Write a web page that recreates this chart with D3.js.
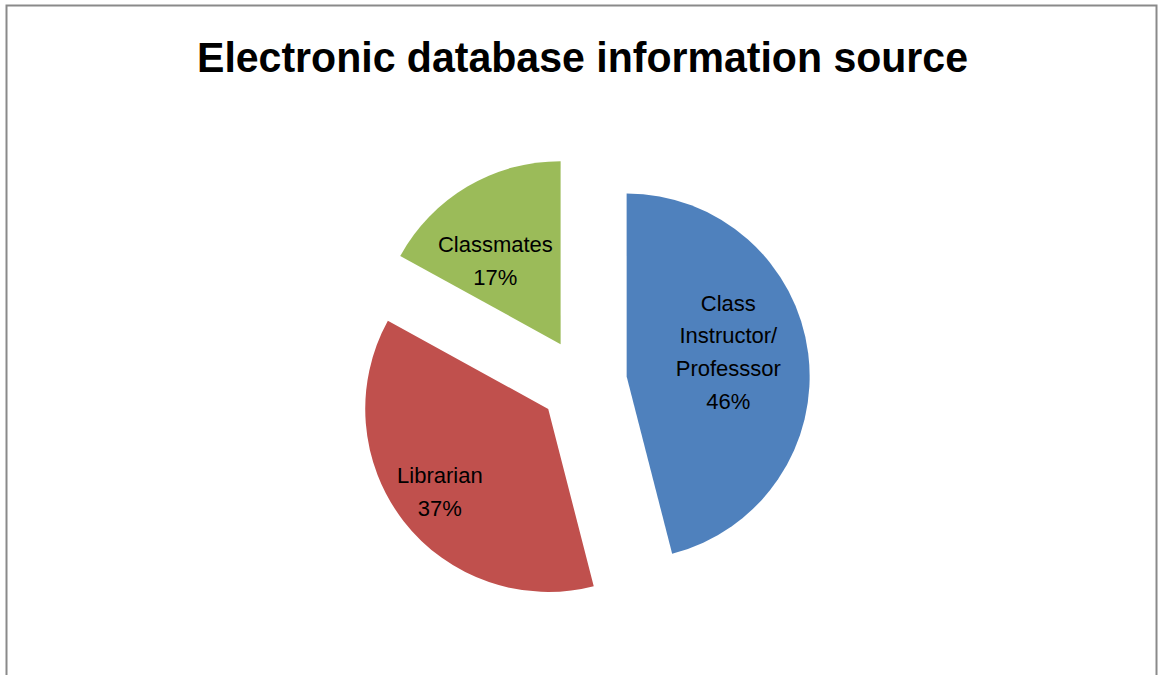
<!DOCTYPE html>
<html>
<head>
<meta charset="utf-8">
<script src="https://cdn.jsdelivr.net/npm/d3@7/dist/d3.min.js"></script>
<style>
  html, body { margin: 0; padding: 0; background: #fff; }
  svg { display: block; }
</style>
</head>
<body>
<svg id="chart" width="1158" height="675"></svg>
<script>
const title = "Electronic database information source";
const categories = ["Class Instructor/ Professsor", "Librarian", "Classmates"];
const labelLines = [["Class", "Instructor/", "Professsor"], ["Librarian"], ["Classmates"]];
const values = [46, 37, 17];
const colors = ["#4F81BD", "#C0504D", "#9BBB59"];

const svg = d3.select("#chart");

// chart border
svg.append("rect")
  .attr("x", 6.5).attr("y", 5.5)
  .attr("width", 1150).attr("height", 680)
  .attr("fill", "#fff")
  .attr("stroke", "#8a8a8a").attr("stroke-width", 2);

// title
svg.append("text")
  .attr("x", 582.5).attr("y", 72)
  .attr("text-anchor", "middle")
  .attr("font-family", "Liberation Sans, Arial, sans-serif")
  .attr("font-weight", "bold")
  .attr("font-size", 42)
  .attr("textLength", 771)
  .attr("lengthAdjust", "spacingAndGlyphs")
  .attr("fill", "#000")
  .text(title);

const cx = 583, cy = 382, r = 183, explode = 44;
const data = categories.map((c, i) => ({ name: c, value: values[i], lines: labelLines[i], color: colors[i] }));
const pie = d3.pie().sort(null).value(d => d.value).startAngle(0).endAngle(2 * Math.PI);
const arc = d3.arc().innerRadius(0).outerRadius(r);
const arcs = pie(data);

// label placement (distance from slice apex along mid-angle, plus small nudges)
const labelDist = [0.56, 0.77, 0.55];
const labelNudge = [[0, -12], [3, -4], [-14, 3]];
const lineH = 32.7;

const g = svg.append("g").attr("transform", `translate(${cx},${cy})`);

arcs.forEach((a, i) => {
  const mid = (a.startAngle + a.endAngle) / 2;
  const dx = Math.sin(mid), dy = -Math.cos(mid);
  const sg = g.append("g").attr("transform", `translate(${dx * explode},${dy * explode})`);
  sg.append("path").attr("d", arc(a)).attr("fill", a.data.color);

  const lx = dx * r * labelDist[i] + labelNudge[i][0];
  const ly = dy * r * labelDist[i] + labelNudge[i][1];
  const lines = a.data.lines.concat([d3.format(".0%")(a.data.value / 100)]);
  const t = sg.append("text")
    .attr("text-anchor", "middle")
    .attr("font-family", "Liberation Sans, Arial, sans-serif")
    .attr("font-size", 22)
    .attr("fill", "#000");
  const n = lines.length;
  lines.forEach((ln, k) => {
    t.append("tspan")
      .attr("x", lx)
      .attr("y", ly + (k - (n - 1) / 2) * lineH + 8)
      .text(ln);
  });
});
</script>
</body>
</html>
